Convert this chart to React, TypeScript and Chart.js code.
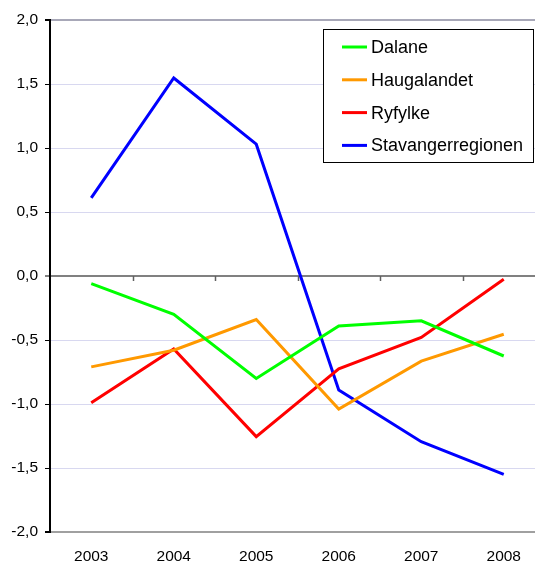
import React, { useEffect, useRef } from "react";
import { Chart, registerables } from "chart.js";

Chart.register(...registerables);

const years = ["2003", "2004", "2005", "2006", "2007", "2008"];
const dalane = [-0.06, -0.3, -0.8, -0.39, -0.35, -0.625];
const haugalandet = [-0.71, -0.58, -0.34, -1.04, -0.665, -0.455];
const ryfylke = [-0.99, -0.57, -1.255, -0.725, -0.48, -0.025];
const stavanger = [0.61, 1.547, 1.03, -0.89, -1.295, -1.55];
const seriesNames = ["Dalane", "Haugalandet", "Ryfylke", "Stavangerregionen"];
const seriesColors = ["#00FF00", "#FF9900", "#FF0000", "#0000FF"];
const yTicks = [-2, -1.5, -1, -0.5, 0, 0.5, 1, 1.5, 2];

const FONT = "'Liberation Sans', Arial, sans-serif";

const fmt = (v: number) => v.toFixed(1).replace(".", ",");

const decorPlugin = {
  id: "decor",
  beforeDatasetsDraw(chart: any) {
    const { ctx, chartArea, scales } = chart;
    const y = scales.y;
    const y0 = Math.round(y.getPixelForValue(0));
    ctx.save();
    ctx.strokeStyle = "#808080";
    ctx.lineWidth = 2;
    ctx.beginPath();
    ctx.moveTo(chartArea.left - 5, y0);
    ctx.lineTo(chartArea.right, y0);
    ctx.stroke();
    const n = years.length;
    const step = (chartArea.right - chartArea.left) / n;
    ctx.lineWidth = 1.5;
    ctx.strokeStyle = "#606060";
    for (let i = 1; i < n; i++) {
      const xp = Math.round(chartArea.left + step * i) + 0.5;
      ctx.beginPath();
      ctx.moveTo(xp, y0);
      ctx.lineTo(xp, y0 + 5);
      ctx.stroke();
    }
    ctx.restore();
  },
  afterDraw(chart: any) {
    const { ctx, chartArea } = chart;
    ctx.save();
    ctx.strokeStyle = "#000000";
    ctx.lineWidth = 2;
    ctx.beginPath();
    ctx.moveTo(chartArea.left, chartArea.top - 1);
    ctx.lineTo(chartArea.left, chartArea.bottom + 1);
    ctx.stroke();
    const bx = 323.5, by = 29.5, bw = 210, bh = 133;
    ctx.fillStyle = "#ffffff";
    ctx.fillRect(bx, by, bw, bh);
    ctx.strokeStyle = "#000000";
    ctx.lineWidth = 1;
    ctx.strokeRect(bx, by, bw, bh);
    ctx.font = `18px ${FONT}`;
    ctx.textBaseline = "middle";
    ctx.textAlign = "left";
    chart.data.datasets.forEach((ds: any, i: number) => {
      const cy = 47 + i * 32.8;
      ctx.strokeStyle = ds.borderColor;
      ctx.lineWidth = 3;
      ctx.beginPath();
      ctx.moveTo(342, cy);
      ctx.lineTo(367, cy);
      ctx.stroke();
      ctx.fillStyle = "#000000";
      ctx.fillText(ds.label, 371, cy + 1);
    });
    ctx.restore();
  },
};

export default function App() {
  const ref = useRef<HTMLCanvasElement>(null);
  useEffect(() => {
    if (!ref.current) return;
    const data = [dalane, haugalandet, ryfylke, stavanger];
    const chart = new Chart(ref.current, {
      type: "line",
      data: {
        labels: years,
        datasets: seriesNames.map((name, i) => ({
          label: name,
          data: data[i],
          borderColor: seriesColors[i],
          backgroundColor: seriesColors[i],
          borderWidth: 3,
          pointRadius: 0,
          tension: 0,
          fill: false,
        })),
      },
      options: {
        responsive: false,
        animation: false,
        devicePixelRatio: 1,
        layout: { padding: { top: 20, right: 15, left: 0, bottom: 0 } },
        plugins: {
          legend: { display: false },
          tooltip: { enabled: false },
        },
        scales: {
          x: {
            type: "category",
            offset: true,
            grid: { display: false },
            border: { display: false },
            ticks: {
              color: "#000000",
              font: { family: FONT, size: 15.5 },
              padding: 7,
              maxRotation: 0,
            },
            afterFit: (s: any) => {
              s.height = 29;
            },
          },
          y: {
            min: -2,
            max: 2,
            afterBuildTicks: (s: any) => {
              s.ticks = yTicks.map((v) => ({ value: v }));
            },
            afterFit: (s: any) => {
              s.width = 50;
            },
            border: { display: false },
            grid: {
              drawTicks: true,
              tickLength: 5,
              tickColor: "#000000",
              lineWidth: (c: any) => (c.tick && (c.tick.value === 2 || c.tick.value === -2) ? 2 : 1),
              color: (c: any) => {
                const v = c.tick ? c.tick.value : null;
                if (v === 2) return "#a8a8b8";
                if (v === -2) return "#a0a0a0";
                if (v === 0) return "rgba(0,0,0,0)";
                return "#d8d8f0";
              },
            },
            ticks: {
              color: "#000000",
              font: { family: FONT, size: 15.5 },
              padding: 7,
              callback: (v: any) => fmt(Number(v)),
            },
          },
        },
      },
      plugins: [decorPlugin],
    });
    return () => chart.destroy();
  }, []);
  return (
    <div
      style={{
        position: "fixed",
        left: 0,
        top: 0,
        width: 535,
        height: 561,
        overflow: "hidden",
        background: "#ffffff",
      }}
    >
      <canvas ref={ref} width={560} height={561} style={{ display: "block" }} />
    </div>
  );
}
